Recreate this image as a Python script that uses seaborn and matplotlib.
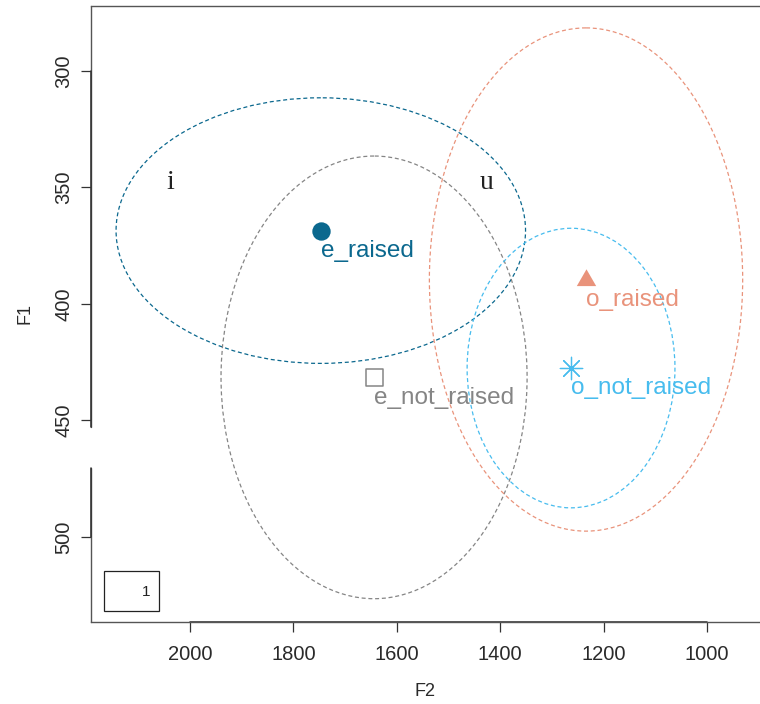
import matplotlib
matplotlib.use("Agg")
import matplotlib.pyplot as plt
import matplotlib.transforms as mtransforms
from matplotlib.patches import Ellipse, Rectangle
import seaborn as sns
import pandas as pd

# Vowel category means (Hz) and their spread ellipses
groups = ["e_raised", "e_not_raised", "o_raised", "o_not_raised"]
f2_mean = [1747, 1644, 1234, 1263]
f1_mean = [368.5, 431.5, 389.5, 427.5]
f2_radius = [396, 296, 303, 201]
f1_radius = [57, 95, 108, 60]
colors = ["#0B688E", "#858585", "#E9937B", "#47BCEE"]

# Reference vowel labels
ref_vowels = ["i", "u"]
ref_f2 = [2039, 1426]
ref_f1 = [348, 348]

x_ticks = [2000, 1800, 1600, 1400, 1200, 1000]
y_ticks = [300, 350, 400, 450, 500]

df = pd.DataFrame({"group": groups, "F2": f2_mean, "F1": f1_mean})

sns.set_theme(style="white")
plt.rcParams["font.family"] = ["Liberation Sans", "DejaVu Sans"]

fig = plt.figure(figsize=(7.6, 7.04), dpi=100)
ax = fig.add_axes([91 / 760, 1 - 622 / 704, 1 - 91 / 760, (622 - 6) / 704])

# spread ellipses
for i, g in enumerate(groups):
    ax.add_patch(Ellipse((f2_mean[i], f1_mean[i]), 2 * f2_radius[i], 2 * f1_radius[i],
                         fill=False, edgecolor=colors[i], linewidth=0.9,
                         linestyle=(0, (3.2, 2.2))))

# category means
tri = [(-1, -0.577), (1, -0.577), (0, 1.155)]
styles = {
    "e_raised": dict(marker="o", s=175),
    "e_not_raised": dict(marker="s", s=150),
    "o_raised": dict(marker=tri, s=260),
    "o_not_raised": dict(marker=(8, 2, 0), s=260),
}
for i, g in enumerate(groups):
    sub = df[df["group"] == g]
    kw = styles[g]
    if g == "e_not_raised":
        sns.scatterplot(data=sub, x="F2", y="F1", ax=ax, marker=kw["marker"], s=kw["s"],
                        facecolors="none", edgecolors=colors[i], linewidths=1.1,
                        legend=False, zorder=3)
    elif g == "o_not_raised":
        sns.scatterplot(data=sub, x="F2", y="F1", ax=ax, marker=kw["marker"], s=kw["s"],
                        color=colors[i], linewidths=0.9, legend=False, zorder=3)
    else:
        sns.scatterplot(data=sub, x="F2", y="F1", ax=ax, marker=kw["marker"], s=kw["s"],
                        color=colors[i], edgecolor=colors[i], linewidth=0,
                        legend=False, zorder=3)
    ax.annotate(g, (f2_mean[i], f1_mean[i]), xytext=(0, -14.5), textcoords="offset points",
                ha="left", va="center", color=colors[i], fontsize=17.5)

for v, x, y in zip(ref_vowels, ref_f2, ref_f1):
    ax.text(x, y, v, ha="center", va="center", fontsize=20,
            family=["Liberation Serif", "DejaVu Serif"], color="#222222")

ax.set_xlim(2191.5, 897.5)
ax.set_ylim(536.5, 272.1)
ax.set_xticks(x_ticks)
ax.set_yticks(y_ticks)
ax.set_xticklabels([str(t) for t in x_ticks])
ax.set_yticklabels([str(t) for t in y_ticks], rotation=90, va="center")
ax.tick_params(axis="both", which="both", direction="out", length=7.5, width=0.9,
               color="#333333", labelsize=14.5, labelcolor="#2a2a2a",
               bottom=True, left=True)
ax.tick_params(axis="x", pad=9)
ax.tick_params(axis="y", pad=5)
ax.set_xlabel("F2", fontsize=13, color="#2a2a2a", labelpad=14)
ax.set_ylabel("F1", fontsize=13, color="#2a2a2a", labelpad=15)
ax.grid(False)

# frame: top and bottom box lines, left side broken between 450 and 500
for side in ["top", "bottom"]:
    ax.spines[side].set_color("#555555")
    ax.spines[side].set_linewidth(1.0)
ax.spines["right"].set_visible(False)
ax.spines["left"].set_visible(False)
yx = mtransforms.blended_transform_factory(ax.transAxes, ax.transData)
ax.plot([0, 0], [272.1, 452.8], transform=yx, color="#555555", lw=1.0, clip_on=False)
ax.plot([0, 0], [470.4, 536.5], transform=yx, color="#555555", lw=1.0, clip_on=False)
# axis lines spanning the tick range
xy = mtransforms.blended_transform_factory(ax.transData, ax.transAxes)
ax.plot([x_ticks[0], x_ticks[-1]], [0, 0], transform=xy, color="#333333", lw=1.15, clip_on=False)
ax.plot([0, 0], [300, 452.8], transform=yx, color="#333333", lw=1.15, clip_on=False)
ax.plot([0, 0], [470.4, 500], transform=yx, color="#333333", lw=1.15, clip_on=False)

# small key box
ax.add_patch(Rectangle((0.0194, 0.0179), 0.0822, 0.0649, transform=ax.transAxes,
                       fill=False, edgecolor="#222222", linewidth=0.9))
ax.text(0.0822, 0.0487, "1", transform=ax.transAxes, ha="center", va="center",
        fontsize=11, color="#222222")

fig.savefig("out.png", dpi=100)
